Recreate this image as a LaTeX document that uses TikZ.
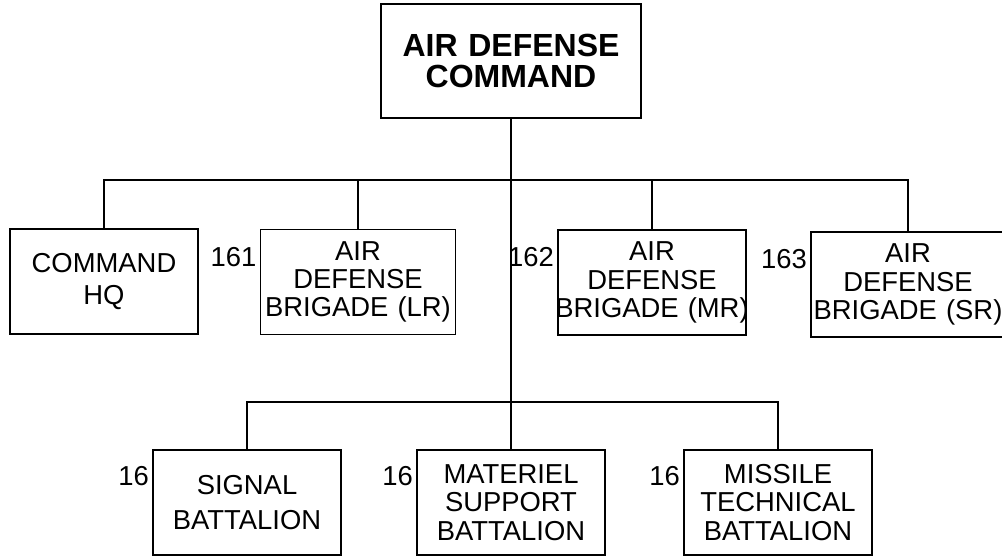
\documentclass[tikz,border=0pt]{standalone}
\usepackage{fontspec}
\setmainfont{Liberation Sans}
\usetikzlibrary{positioning}
\newcommand\fullline[1]{\makebox[\hsize]{#1}}
\tikzset{
  unit/.style = {draw, line width=0.8pt, text width=94pt, inner xsep=0pt, inner ysep=0pt,
                 minimum height=52.5pt, align=center, font=\fontsize{13.7}{14.2}\selectfont},
  head/.style = {unit, text width=130pt, minimum height=57pt,
                 font=\bfseries\fontsize{16}{15.8}\selectfont},
  num/.style  = {inner sep=0pt, anchor=north east, font=\fontsize{13.7}{14.2}\selectfont},
  wire/.style = {line width=0.8pt},
}
\begin{document}
\begin{tikzpicture}[x=0.5pt,y=-0.5pt]
  \useasboundingbox (0,0) rectangle (1002,556);
  % command and brigades
  \node[head] (adc) at (511,61) {AIR DEFENSE\\COMMAND};
  \node[unit, font=\fontsize{13.7}{15.8}\selectfont] (hq) at (104,281.5) {COMMAND\\HQ};
  \node[unit, text width=97.5pt] (lr) at (358,282) {AIR\\DEFENSE\\BRIGADE (LR)};
  \node[unit] (mr) at (652,282.5) {AIR\\DEFENSE\\\fullline{BRIGADE (MR)}};
  \node[unit, text width=97pt] (sr) at (908,284.5) {AIR\\DEFENSE\\\fullline{BRIGADE (SR)}};
  % battalions
  \node[unit, font=\fontsize{13.7}{17.5}\selectfont] (sig) at (247,502.5) {SIGNAL\\BATTALION};
  \node[unit] (mat) at (511,502.5) {MATERIEL\\SUPPORT\\BATTALION};
  \node[unit] (msl) at (778,502.5) {MISSILE\\TECHNICAL\\BATTALION};
  % unit numbers
  \node[num] (n161) at ([xshift=-1.5pt,yshift=-9pt]lr.north west) {161};
  \node[num] (n162) at ([xshift=-1.5pt,yshift=-9pt]mr.north west) {162};
  \node[num] (n163) at ([xshift=-1.5pt,yshift=-9pt]sr.north west) {163};
  \node[num] (n16a) at ([xshift=-1.5pt,yshift=-8.5pt]sig.north west) {16};
  \node[num] (n16b) at ([xshift=-1.5pt,yshift=-8.5pt]mat.north west) {16};
  \node[num] (n16c) at ([xshift=-1.5pt,yshift=-8.5pt]msl.north west) {16};
  % lines
  \coordinate (bus1) at (511,180);
  \coordinate (bus2) at (511,402);
  \draw[wire] (adc.south) -- (mat.north);
  \draw[wire] (hq.north) |- (sr.north |- bus1) -- (sr.north);
  \draw[wire] (lr.north) -- (lr.north |- bus1);
  \draw[wire] (mr.north) -- (mr.north |- bus1);
  \draw[wire] (sig.north) |- (msl.north |- bus2) -- (msl.north);
\end{tikzpicture}
\end{document}
